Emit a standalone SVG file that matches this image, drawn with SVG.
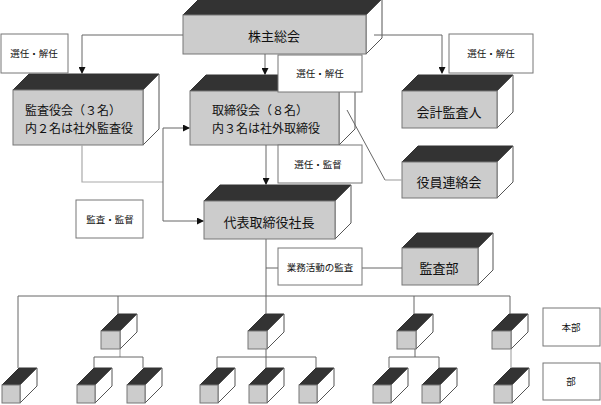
<svg xmlns="http://www.w3.org/2000/svg" width="601" height="405" viewBox="0 0 601 405">
<defs>
<marker id="ah" markerWidth="7" markerHeight="7" refX="6" refY="3.5" orient="auto" markerUnits="userSpaceOnUse">
<path d="M0,0 L7,3.5 L0,7 Z" fill="#111"/>
</marker>
<style>
.front{fill:#cccccc;stroke:#777;stroke-width:1}
.top{fill:#333;stroke:#333;stroke-width:1}
.side{fill:#fff;stroke:#555;stroke-width:1}
.lbl{fill:#fff;stroke:#777;stroke-width:1}
.c{fill:none;stroke:#666;stroke-width:1}
.cl{fill:none;stroke:#aaa;stroke-width:1.2}
.t{font-family:"Noto Sans CJK JP","Noto Sans",sans-serif;font-size:13px;fill:#111;text-anchor:middle;dominant-baseline:central}
.t2{font-family:"Noto Sans CJK JP","Noto Sans",sans-serif;font-size:12px;fill:#111}
.s{font-family:"Noto Sans CJK JP","Noto Sans",sans-serif;font-size:9.5px;fill:#111;text-anchor:middle;dominant-baseline:central}
</style>
</defs>
<rect width="601" height="405" fill="#fff"/>

<g id="kabunushi">
<polygon class="top" points="183,15 199,-1 382,-1 366,15"/>
<polygon class="side" points="366,15 382,-1 382,38 366,54"/>
<rect class="front" x="183" y="15" width="183" height="39"/>
<text class="t" x="274" y="35">株主総会</text>
</g>

<g id="kansayakukai">
<polygon class="top" points="13,90 29,74 159,74 143,90"/>
<polygon class="side" points="143,90 159,74 159,129 143,145"/>
<rect class="front" x="13" y="90" width="130" height="55"/>
<text class="t2" x="25" y="115">監査役会（３名）</text>
<text class="t2" x="25" y="133">内２名は社外監査役</text>
</g>

<g id="torishimariyakukai">
<polygon class="top" points="190,91 206,75 355,75 339,91"/>
<polygon class="side" points="339,91 355,75 355,129 339,145"/>
<rect class="front" x="190" y="91" width="149" height="54"/>
<text class="t2" x="212" y="115">取締役会（８名）</text>
<text class="t2" x="212" y="133">内３名は社外取締役</text>
</g>

<g id="daihyo">
<polygon class="top" points="204,201 220,185 351,185 335,201"/>
<polygon class="side" points="335,201 351,185 351,223 335,239"/>
<rect class="front" x="204" y="201" width="131" height="38"/>
<text class="t" x="269" y="221">代表取締役社長</text>
</g>

<g id="kaikei">
<polygon class="top" points="402,91 418,75 513,75 497,91"/>
<polygon class="side" points="497,91 513,75 513,112 497,128"/>
<rect class="front" x="402" y="91" width="95" height="37"/>
<text class="t" x="449" y="111">会計監査人</text>
</g>

<g id="yakuin">
<polygon class="top" points="402,162 418,146 513,146 497,162"/>
<polygon class="side" points="497,162 513,146 513,182 497,198"/>
<rect class="front" x="402" y="162" width="95" height="36"/>
<text class="t" x="449" y="181">役員連絡会</text>
</g>

<g id="kansabu">
<polygon class="top" points="402,248 417,233 493,233 478,248"/>
<polygon class="side" points="478,248 493,233 493,270 478,285"/>
<rect class="front" x="402" y="248" width="76" height="37"/>
<text class="t" x="439" y="267">監査部</text>
</g>

<g id="honbu1"><polygon class="top" points="101,331 118,314 137,314 120,331"/><polygon class="side" points="120,331 137,314 137,332 120,349"/><rect class="front" x="101" y="331" width="19" height="18"/></g>
<g id="honbu2"><polygon class="top" points="248,331 265,314 284,314 267,331"/><polygon class="side" points="267,331 284,314 284,332 267,349"/><rect class="front" x="248" y="331" width="19" height="18"/></g>
<g id="honbu3"><polygon class="top" points="397,331 414,314 433,314 416,331"/><polygon class="side" points="416,331 433,314 433,332 416,349"/><rect class="front" x="397" y="331" width="19" height="18"/></g>
<g id="honbu4"><polygon class="top" points="492,331 509,314 528,314 511,331"/><polygon class="side" points="511,331 528,314 528,332 511,349"/><rect class="front" x="492" y="331" width="19" height="18"/></g>

<g id="bu1"><polygon class="top" points="2,385 19,368 37,368 20,385"/><polygon class="side" points="20,385 37,368 37,386 20,403"/><rect class="front" x="2" y="385" width="18" height="18"/></g>
<g id="bu2"><polygon class="top" points="77,385 94,368 112,368 95,385"/><polygon class="side" points="95,385 112,368 112,386 95,403"/><rect class="front" x="77" y="385" width="18" height="18"/></g>
<g id="bu3"><polygon class="top" points="127,385 144,368 162,368 145,385"/><polygon class="side" points="145,385 162,368 162,386 145,403"/><rect class="front" x="127" y="385" width="18" height="18"/></g>
<g id="bu4"><polygon class="top" points="200,385 217,368 235,368 218,385"/><polygon class="side" points="218,385 235,368 235,386 218,403"/><rect class="front" x="200" y="385" width="18" height="18"/></g>
<g id="bu5"><polygon class="top" points="249,385 266,368 284,368 267,385"/><polygon class="side" points="267,385 284,368 284,386 267,403"/><rect class="front" x="249" y="385" width="18" height="18"/></g>
<g id="bu6"><polygon class="top" points="299,385 316,368 334,368 317,385"/><polygon class="side" points="317,385 334,368 334,386 317,403"/><rect class="front" x="299" y="385" width="18" height="18"/></g>
<g id="bu7"><polygon class="top" points="373,385 390,368 408,368 391,385"/><polygon class="side" points="391,385 408,368 408,386 391,403"/><rect class="front" x="373" y="385" width="18" height="18"/></g>
<g id="bu8"><polygon class="top" points="422,385 439,368 457,368 440,385"/><polygon class="side" points="440,385 457,368 457,386 440,403"/><rect class="front" x="422" y="385" width="18" height="18"/></g>
<g id="bu9"><polygon class="top" points="494,385 511,368 529,368 512,385"/><polygon class="side" points="512,385 529,368 529,386 512,403"/><rect class="front" x="494" y="385" width="18" height="18"/></g>

<g id="connectors">
<path class="c" d="M183,35 H82 V73" marker-end="url(#ah)"/>
<path class="c" d="M374,35 H442 V73" marker-end="url(#ah)"/>
<path class="c" d="M265,54 V74" marker-end="url(#ah)"/>
<path class="cl" d="M82,145 V182 H163"/>
<path class="c" d="M163,182 V128 H189" marker-end="url(#ah)"/>
<path class="c" d="M163,182 V221 H203" marker-end="url(#ah)"/>
<path class="c" d="M266,145 V184" marker-end="url(#ah)"/>
<path class="c" d="M347,110 L385,180"/>
<path class="cl" d="M385,180 H402"/>
<path class="c" d="M266,239 V314"/>
<path class="c" d="M266,268 H402"/>
<path class="c" d="M18,296 H510"/>
<path class="c" d="M18,296 V368 M118,296 V314 M414,296 V314 M510,296 V314"/>
<path class="cl" d="M120,349 V357"/>
<path class="c" d="M94,368 V357 H143 V368"/>
<path class="c" d="M266,349 V368 M217,368 V357 H316 V368"/>
<path class="c" d="M415,349 V357 M389,368 V357 H439 V368"/>
<path class="cl" d="M511,349 V368"/>
</g>

<g id="labels">
<g id="lbl-senin1"><rect class="lbl" x="1" y="34" width="67" height="39"/><text class="s" x="34" y="53">選任・解任</text></g>
<g id="lbl-senin2"><rect class="lbl" x="278" y="55" width="84" height="37"/><text class="s" x="320" y="73">選任・解任</text></g>
<g id="lbl-senin3"><rect class="lbl" x="449" y="34" width="84" height="39"/><text class="s" x="491" y="53">選任・解任</text></g>
<g id="lbl-kantoku"><rect class="lbl" x="278" y="145" width="84" height="38"/><text class="s" x="318" y="164">選任・監督</text></g>
<g id="lbl-kansa"><rect class="lbl" x="76" y="200" width="67" height="38"/><text class="s" x="110" y="219">監査・監督</text></g>
<g id="lbl-gyomu"><rect class="lbl" x="278" y="248" width="84" height="37"/><text class="s" x="320" y="267">業務活動の監査</text></g>
<g id="lbl-honbu"><rect class="lbl" x="543" y="308" width="57" height="38"/><text class="s" x="571" y="327">本部</text></g>
<g id="lbl-bu"><rect class="lbl" x="543" y="363" width="57" height="37"/><text class="s" x="571" y="381">部</text></g>
</g>
</svg>
